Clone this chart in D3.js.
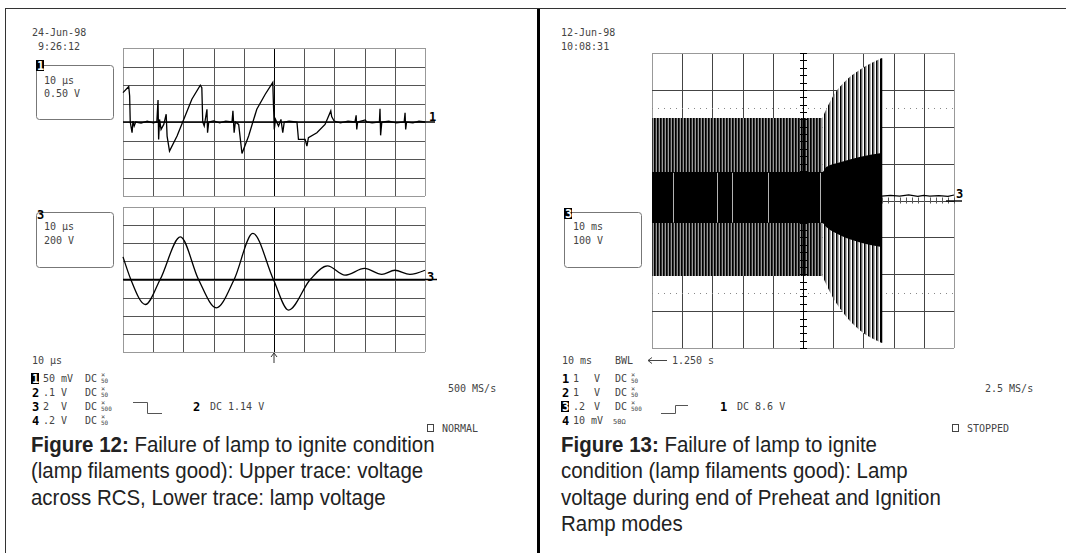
<!DOCTYPE html>
<html>
<head>
<meta charset="utf-8">
<script src="https://cdn.jsdelivr.net/npm/d3@7"></script>
<style>
  body { margin: 0; background: #fff; }
  .scope { font-family: "DejaVu Sans Mono", monospace; font-size: 10px; fill: #444; }
  .digit { font-family: "DejaVu Sans Mono", monospace; font-size: 12px; font-weight: bold; fill: #000; }
  .cap { font-family: "Liberation Sans", Arial, sans-serif; font-size: 22px; fill: #222; }
</style>
</head>
<body>
<script>
// ---- data ----
// Fig 12, channel 1 (upper trace), time in divisions, volts in divisions
var ch1Time = [0, 0.19, 0.22, 0.24, 0.30, 0.33, 0.37, 0.42, 0.6, 0.8, 1.0, 1.12, 1.16, 1.18, 1.21, 1.26, 1.35, 1.43, 1.46,
  1.54, 1.79, 2.01, 2.28, 2.56, 2.61, 2.64, 2.69, 2.78, 2.80, 2.84, 3.0, 3.2, 3.4, 3.61, 3.64, 3.68, 3.72, 3.83,
  3.94, 4.16, 4.43, 4.71, 4.96, 4.98, 5.01, 5.05, 5.15, 5.23, 5.29, 5.34, 5.5, 5.76, 5.81, 6.03, 6.09,
  6.14, 6.42, 6.69, 6.88, 6.91, 6.99, 7.2, 7.45, 7.68, 7.72, 7.74, 7.77, 8.02, 8.07, 8.25, 8.49, 8.51, 8.53, 8.57,
  8.8, 9.05, 9.31, 9.34, 9.36, 9.39, 9.6, 9.8, 10];
var ch1Volt = [1.59, 1.92, 1.41, 0, -0.58, 0.05, -0.22, 0, -0.06, 0.05, -0.05, 0, 1.19, -0.94, 0.14, -0.40, -0.13, 0.42, -0.76,
  -1.57, -0.76, 0.14, 1.23, 1.99, 1.86, 0, -0.22, 0.69, -0.58, 0, 0.06, -0.05, 0.05, 0, 0.60, -0.58, 0, -0.13,
  -1.70, -0.76, 0.69, 1.50, 2.14, 1.05, -0.40, 0.14, -0.22, 0.14, -0.58, 0, 0.05, 0, -0.94, -0.94, -1.30,
  -0.85, -0.58, -0.13, 0.60, 0.29, 0.05, -0.05, 0.05, 0, 0.36, -0.40, 0, 0.11, 0, -0.05, 0, 0.72, -0.72, 0,
  0.05, -0.05, 0, 0.50, -0.40, 0, -0.05, 0.05, 0];

// Fig 12, channel 3 (lower trace): lamp voltage
var ch3Time = [0, 0.26, 0.74, 1.23, 1.90, 2.50, 3.09, 3.68, 4.30, 4.98, 5.48, 6.20, 6.77, 7.35, 8.00, 8.57, 9.00, 9.50, 10];
var ch3Volt = [1.25, 0, -1.38, 0, 2.35, 0, -1.56, 0, 2.54, 0, -1.69, 0, 0.75, 0.24, 0.61, 0.28, 0.51, 0.28, 0.51];

// Fig 13, envelope of the lamp voltage burst
var envTime  = [0, 5.64, 5.98, 6.44, 6.87, 7.60];
var outerTop = [2.24, 2.24, 2.81, 3.27, 3.54, 3.86];
var outerBot = [-2.05, -2.05, -2.62, -3.16, -3.51, -3.86];
var innerTime = [0, 5.64, 5.77, 6.23, 6.87, 7.60];
var innerTop = [0.77, 0.77, 0.91, 1.04, 1.18, 1.29];
var innerBot = [-0.61, -0.61, -0.72, -0.94, -1.13, -1.26];
var innerGaps = [0.70, 2.15, 2.65, 3.84, 5.56];
// after the burst stops
var tailTime = [7.60, 7.9, 8.2, 8.5, 8.8, 9.0, 9.2, 9.5, 9.8, 10];
var tailVolt = [0.12, 0.14, 0.12, 0.15, 0.11, 0.14, 0.12, 0.13, 0.11, 0.15];

var captionLeft = ["Failure of lamp to ignite condition", "(lamp filaments good): Upper trace: voltage", "across RCS, Lower trace: lamp voltage"];
var captionRight = ["Failure of lamp to ignite", "condition (lamp filaments good): Lamp", "voltage during end of Preheat and Ignition", "Ramp modes"];

var W = 1066, H = 553;
var svg = d3.select("body").append("svg").attr("width", W).attr("height", H);

// pattern for the dense oscillation lines
var defs = svg.append("defs");
function stripes(id, w, parts) {
  var p = defs.append("pattern").attr("id", id).attr("patternUnits", "userSpaceOnUse")
    .attr("width", w).attr("height", 10);
  p.append("rect").attr("width", w).attr("height", 10).attr("fill", "#fff");
  parts.forEach(function(q) {
    p.append("rect").attr("x", q[0]).attr("width", q[1]).attr("height", 10).attr("fill", q[2]);
  });
}
stripes("dense", 3, [[0, 1, "#000"], [1, 1, "#333"], [2, 1, "#999"]]);
stripes("sparse", 4, [[0, 1, "#000"], [1, 1.5, "#666"]]);

// ---- frame ----
svg.append("line").attr("x1", 5).attr("x2", W).attr("y1", 8.5).attr("y2", 8.5).attr("stroke", "#333");
svg.append("line").attr("x1", 5.5).attr("x2", 5.5).attr("y1", 8).attr("y2", H).attr("stroke", "#333");
svg.append("line").attr("x1", 538.5).attr("x2", 538.5).attr("y1", 9).attr("y2", H).attr("stroke", "#000").attr("stroke-width", 3);

function txt(x, y, s, cls) {
  return svg.append("text").attr("class", cls || "scope").attr("x", x).attr("y", y).text(s);
}
function invDigit(x, y, s) {
  svg.append("rect").attr("x", x - 1).attr("y", y - 10).attr("width", 8).attr("height", 11).attr("fill", "#000");
  svg.append("text").attr("class", "digit").attr("x", x).attr("y", y).style("fill", "#fff").text(s);
}
function grid(x, y, light) {
  var g = svg.append("g");
  var xs = d3.range(0, 11), ys = d3.range(-4, 5);
  g.selectAll(".v").data(xs).enter().append("line")
    .attr("x1", function(d) { return Math.round(x(d)) + 0.5; })
    .attr("x2", function(d) { return Math.round(x(d)) + 0.5; })
    .attr("y1", y(-4)).attr("y2", y(4))
    .attr("stroke", function(d) { return d == 0 || d == 10 ? "#999" : (d == 5 ? "#000" : light); });
  g.selectAll(".h").data(ys).enter().append("line")
    .attr("y1", function(d) { return Math.round(y(d)) + 0.5; })
    .attr("y2", function(d) { return Math.round(y(d)) + 0.5; })
    .attr("x1", x(0)).attr("x2", x(10))
    .attr("stroke", function(d) { return d == -4 || d == 4 ? "#999" : light; });
  return g;
}
function box(x, y, w, h) {
  svg.append("rect").attr("x", x + 0.5).attr("y", y + 0.5).attr("width", w).attr("height", h)
    .attr("rx", 3).attr("fill", "none").attr("stroke", "#777");
}
function smallX(x, y, s) {
  svg.append("text").attr("class", "scope").attr("x", x).attr("y", y - 3).style("font-size", "7px").text("×");
  svg.append("text").attr("class", "scope").attr("x", x).attr("y", y + 3).style("font-size", "6px").text(s);
}
function caption(x, y0, title, lines) {
  var g = svg.append("g").attr("transform", "translate(" + x + ",0) scale(0.93,1)");
  var t = g.append("text").attr("class", "cap").attr("x", 0).attr("y", y0);
  t.append("tspan").style("font-weight", "bold").text(title + " ");
  t.append("tspan").text(lines[0]);
  lines.slice(1).forEach(function(s, i) {
    g.append("text").attr("class", "cap").attr("x", 0).attr("y", y0 + (i + 1) * 26.5).text(s);
  });
}

// ================= Figure 12 =================
var lx = d3.scaleLinear().domain([0, 10]).range([123, 425]);
var uy = d3.scaleLinear().domain([-4, 4]).range([196, 48]);
var ly = d3.scaleLinear().domain([-4, 4]).range([352, 207]);

txt(32, 36, "24-Jun-98");
txt(38, 50, "9:26:12");

grid(lx, uy, "#555");
grid(lx, ly, "#555");

// channel markers
svg.append("line").attr("x1", lx(0)).attr("x2", lx(10) + 10).attr("y1", uy(0)).attr("y2", uy(0)).attr("stroke", "#000").attr("stroke-width", 1.6);
txt(429, 121, "1", "digit");
svg.append("line").attr("x1", lx(0)).attr("x2", lx(10) + 12).attr("y1", ly(0)).attr("y2", ly(0)).attr("stroke", "#000").attr("stroke-width", 1.6);
txt(427, 281, "3", "digit");

var line1 = d3.line().x(function(d) { return lx(d[0]); }).y(function(d) { return uy(d[1]); });
svg.append("path").datum(d3.zip(ch1Time, ch1Volt)).attr("d", line1)
  .attr("fill", "none").attr("stroke", "#000").attr("stroke-width", 1.3);

var line3 = d3.line().curve(d3.curveMonotoneX).x(function(d) { return lx(d[0]); }).y(function(d) { return ly(d[1]); });
svg.append("path").datum(d3.zip(ch3Time, ch3Volt)).attr("d", line3)
  .attr("fill", "none").attr("stroke", "#000").attr("stroke-width", 1.3);

// trigger arrow
svg.append("line").attr("x1", lx(5)).attr("x2", lx(5)).attr("y1", 363).attr("y2", 353).attr("stroke", "#333");
svg.append("path").attr("d", "M" + (lx(5) - 3) + ",357 L" + lx(5) + ",353 L" + (lx(5) + 3) + ",357")
  .attr("fill", "none").attr("stroke", "#333");

box(36, 65, 77, 54);
invDigit(37, 70, "1");
txt(44, 84, "10 µs");
txt(44, 97, "0.50 V");

box(36, 212, 77, 55);
txt(37, 219, "3", "digit");
txt(44, 230, "10 µs");
txt(44, 244, "200 V");

txt(32, 364, "10 µs");
var rowsY = [382, 396, 410, 424];
invDigit(32, rowsY[0] + 1, "1");
txt(32, rowsY[1] + 1, "2", "digit");
txt(32, rowsY[2] + 1, "3", "digit");
txt(32, rowsY[3] + 1, "4", "digit");
txt(43, rowsY[0], "50 mV"); txt(43, rowsY[1], ".1"); txt(43, rowsY[2], " 2"); txt(43, rowsY[3], ".2");
[1, 2, 3].forEach(function(i) { txt(61, rowsY[i], "V"); });
rowsY.forEach(function(y, i) { txt(85, y, "DC"); smallX(101, y - 2, i == 2 ? "500" : "50"); });
svg.append("path").attr("d", "M133,402.5 H147.5 V413.5 H162").attr("fill", "none").attr("stroke", "#555");
txt(193, 411, "2", "digit");
txt(210, 410, "DC 1.14 V");
txt(448, 392, "500 MS/s");
svg.append("rect").attr("x", 427.5).attr("y", 424.5).attr("width", 6).attr("height", 7).attr("fill", "none").attr("stroke", "#444");
txt(442, 432, "NORMAL");

caption(31, 452, "Figure 12:", captionLeft);

// ================= Figure 13 =================
var rx = d3.scaleLinear().domain([0, 10]).range([652, 954]);
var ry = d3.scaleLinear().domain([-4, 4]).range([348, 53]);

txt(561, 36, "12-Jun-98");
txt(561, 50, "10:08:31");

grid(rx, ry, "#444");
svg.selectAll(".dot").data([-2.5, 2.5]).enter().append("line")
  .attr("x1", rx(0)).attr("x2", rx(10))
  .attr("y1", function(d) { return Math.round(ry(d)) + 0.5; })
  .attr("y2", function(d) { return Math.round(ry(d)) + 0.5; })
  .attr("stroke", "#888").attr("stroke-dasharray", "1,5");

var env = d3.zip(envTime, outerTop, outerBot);
var outerArea = d3.area().curve(d3.curveMonotoneX)
  .x(function(d) { return rx(d[0]); }).y0(function(d) { return ry(d[2]); }).y1(function(d) { return ry(d[1]); });
svg.append("path").datum(env.slice(0, 2)).attr("d", outerArea).attr("fill", "url(#dense)");
svg.append("path").datum(env.slice(1)).attr("d", outerArea).attr("fill", "url(#sparse)");
svg.append("line").attr("x1", rx(7.6)).attr("x2", rx(7.6)).attr("y1", ry(3.86)).attr("y2", ry(-3.86)).attr("stroke", "#000").attr("stroke-width", 1.5);

// centre axes with minor ticks
var tv = d3.range(-4, 4.01, 0.2);
svg.append("line").attr("x1", rx(5) + 0.5).attr("x2", rx(5) + 0.5).attr("y1", ry(-4)).attr("y2", ry(4)).attr("stroke", "#000");
svg.selectAll(".tv").data(tv).enter().append("line")
  .attr("x1", rx(5) - 3).attr("x2", rx(5) + 4)
  .attr("y1", function(d) { return Math.round(ry(d)) + 0.5; })
  .attr("y2", function(d) { return Math.round(ry(d)) + 0.5; })
  .attr("stroke", "#000");
var th = d3.range(0, 10.01, 0.2);
svg.selectAll(".th").data(th).enter().append("line")
  .attr("x1", function(d) { return Math.round(rx(d)) + 0.5; })
  .attr("x2", function(d) { return Math.round(rx(d)) + 0.5; })
  .attr("y1", ry(0) - 3).attr("y2", ry(0) + 3)
  .attr("stroke", "#555");

var innerArea = d3.area().curve(d3.curveMonotoneX)
  .x(function(d) { return rx(d[0]); }).y0(function(d) { return ry(d[2]); }).y1(function(d) { return ry(d[1]); });
svg.append("path").datum(d3.zip(innerTime, innerTop, innerBot)).attr("d", innerArea).attr("fill", "#000");
svg.selectAll(".gap").data(innerGaps).enter().append("line")
  .attr("x1", function(d) { return Math.round(rx(d)) + 0.5; })
  .attr("x2", function(d) { return Math.round(rx(d)) + 0.5; })
  .attr("y1", ry(0.75)).attr("y2", ry(-0.6))
  .attr("stroke", "#fff").attr("stroke-opacity", 0.7);

var tailLine = d3.line().x(function(d) { return rx(d[0]); }).y(function(d) { return ry(d[1]); });
svg.append("path").datum(d3.zip(tailTime, tailVolt)).attr("d", tailLine)
  .attr("fill", "none").attr("stroke", "#000").attr("stroke-width", 1.2);
svg.append("line").attr("x1", rx(10) - 8).attr("x2", rx(10) + 8).attr("y1", ry(0) + 0.5).attr("y2", ry(0) + 0.5).attr("stroke", "#000").attr("stroke-width", 1.4);
txt(956, 198, "3", "digit");

box(564, 212, 77, 55);
invDigit(565, 218, "3");
txt(573, 230, "10 ms");
txt(573, 244, "100 V");

txt(562, 364, "10 ms");
txt(615, 364, "BWL");
svg.append("line").attr("x1", 648).attr("x2", 667).attr("y1", 360.5).attr("y2", 360.5).attr("stroke", "#444");
svg.append("path").attr("d", "M652,357.5 L648,360.5 L652,363.5").attr("fill", "none").attr("stroke", "#444");
txt(672, 364, "1.250 s");
txt(562, rowsY[0] + 1, "1", "digit");
txt(562, rowsY[1] + 1, "2", "digit");
invDigit(562, rowsY[2] + 1, "3");
txt(562, rowsY[3] + 1, "4", "digit");
txt(573, rowsY[0], " 1"); txt(573, rowsY[1], " 1"); txt(573, rowsY[2], ".2"); txt(573, rowsY[3], "10 mV");
[0, 1, 2].forEach(function(i) {
  txt(594, rowsY[i], "V"); txt(615, rowsY[i], "DC"); smallX(631, rowsY[i] - 2, i == 2 ? "500" : "50");
});
txt(613, rowsY[3], "50Ω").style("font-size", "7px");
svg.append("path").attr("d", "M661,413.5 H675.5 V405.5 H688").attr("fill", "none").attr("stroke", "#555");
txt(720, 411, "1", "digit");
txt(737, 410, "DC 8.6 V");
txt(985, 392, "2.5 MS/s");
svg.append("rect").attr("x", 952.5).attr("y", 424.5).attr("width", 6).attr("height", 7).attr("fill", "none").attr("stroke", "#444");
txt(967, 432, "STOPPED");

caption(561, 452, "Figure 13:", captionRight);
</script>
</body>
</html>
